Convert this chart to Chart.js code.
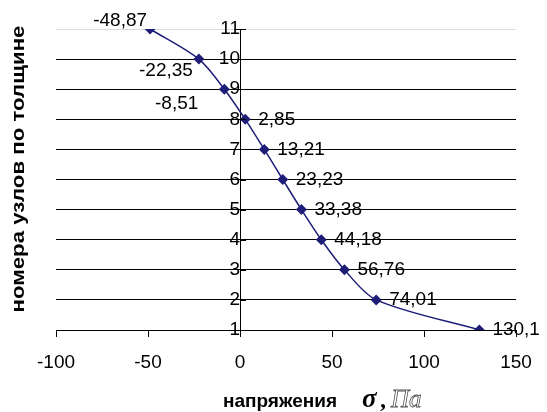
<!DOCTYPE html>
<html>
<head>
<meta charset="utf-8">
<script src="https://cdn.jsdelivr.net/npm/chart.js@4"></script>
<style>
  html, body { margin: 0; padding: 0; background: #fff; }
  #wrap { width: 547px; height: 412px; }
</style>
</head>
<body>
<div id="wrap"><canvas id="chart" width="547" height="412"></canvas></div>
<script>
// data
const stress = [130.1, 74.01, 56.76, 44.18, 33.38, 23.23, 13.21, 2.85, -8.51, -22.35, -48.87];
const nodes = [1, 2, 3, 4, 5, 6, 7, 8, 9, 10, 11];
const valueLabels = ['130,1', '74,01', '56,76', '44,18', '33,38', '23,23', '13,21', '2,85', '-8,51', '-22,35', '-48,87'];
const xTicks = [-100, -50, 0, 50, 100, 150];

const lineColor = '#1e1e78';
const font = "'Liberation Sans', Arial, sans-serif";

// where each value label sits relative to its point: [dx, dy, align]
const labelPlace = {
  8: [-26, 15, 'right'],
  9: [-6, 12, 'right'],
  10: [-3, -8, 'right']
};

const labelPlugin = {
  id: 'labels',
  afterDatasetsDraw(chart) {
    const ctx = chart.ctx;
    const meta = chart.getDatasetMeta(0);
    const ys = chart.scales.y;
    const ax = chart.scales.x.getPixelForValue(0);
    ctx.save();

    // tick marks crossing to the right of the y axis
    ctx.strokeStyle = '#000';
    ctx.lineWidth = 1;
    ys.ticks.forEach(t => {
      const py = Math.round(ys.getPixelForValue(t.value)) + 0.5;
      ctx.beginPath();
      ctx.moveTo(ax, py);
      ctx.lineTo(ax + 6, py);
      ctx.stroke();
    });

    ctx.fillStyle = '#000';
    ctx.font = '19px ' + font;
    ctx.textBaseline = 'middle';
    meta.data.forEach((pt, i) => {
      const p = labelPlace[i] || [13, 0, 'left'];
      ctx.textAlign = p[2];
      ctx.fillText(valueLabels[i], pt.x + p[0], pt.y + p[1]);
    });

    // axis titles
    ctx.textAlign = 'left';
    ctx.textBaseline = 'alphabetic';
    ctx.font = 'bold 19px ' + font;
    ctx.fillText('напряжения', 223, 407);
    ctx.font = 'bold italic 27px "Liberation Serif", serif';
    ctx.fillText('σ', 362, 407);
    ctx.font = 'bold 24px "Liberation Serif", serif';
    ctx.fillText(',', 380, 407);
    ctx.strokeStyle = '#555';
    ctx.lineWidth = 0.8;
    ctx.font = 'italic 25px "Liberation Serif", serif';
    ctx.strokeText('Па', 391, 407);

    ctx.translate(24, 169);
    ctx.rotate(-Math.PI / 2);
    ctx.scale(1.17, 1);
    ctx.textAlign = 'center';
    ctx.font = 'bold 19px ' + font;
    ctx.fillText('номера узлов по толщине', 0, 0);
    ctx.restore();
  }
};

new Chart(document.getElementById('chart'), {
  type: 'scatter',
  data: {
    datasets: [{
      data: stress.map((v, i) => ({ x: v, y: nodes[i] })),
      showLine: true,
      tension: 0.3,
      borderColor: lineColor,
      borderWidth: 1.5,
      backgroundColor: lineColor,
      pointStyle: 'rectRot',
      pointRadius: 5.5,
      pointBorderWidth: 0
    }]
  },
  options: {
    responsive: false,
    animation: false,
    layout: { padding: { left: 56, right: 31, top: 29, bottom: 0 } },
    plugins: { legend: { display: false }, tooltip: { enabled: false } },
    scales: {
      x: {
        type: 'linear',
        min: -100,
        max: 150,
        afterBuildTicks: (s) => { s.ticks = xTicks.map(v => ({ value: v })); },
        afterFit: (s) => { s.height = 82; },
        border: { color: '#000', width: 1 },
        grid: { drawOnChartArea: false, color: '#000', tickLength: 7 },
        ticks: { color: '#000', font: { family: font, size: 19 }, padding: 14, maxRotation: 0 }
      },
      y: {
        type: 'linear',
        position: { x: 0 },
        min: 1,
        max: 11,
        afterFit: (s) => { s.width = 56; },
        border: { color: '#000', width: 1 },
        grid: {
          color: (c) => c.tick && c.tick.value === 11 ? '#dcdcdc' : '#000',
          tickColor: '#000',
          tickLength: 6
        },
        ticks: { stepSize: 1, color: '#000', font: { family: font, size: 19 }, padding: 4 }
      }
    }
  },
  plugins: [labelPlugin]
});
</script>
</body>
</html>
